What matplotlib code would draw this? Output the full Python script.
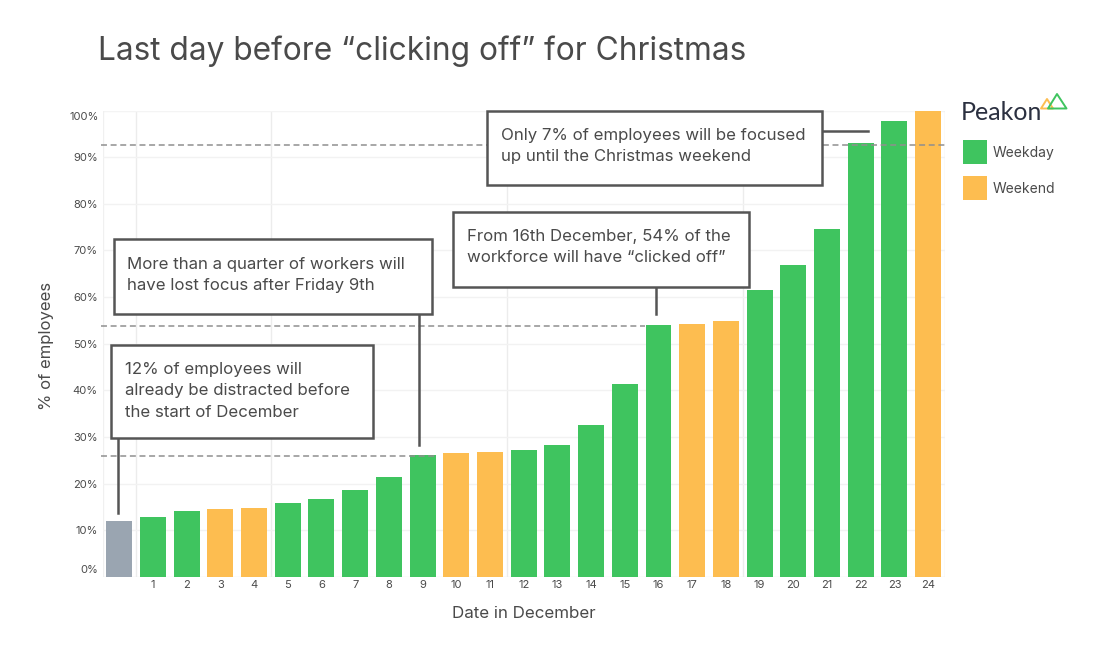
import numpy as np
import matplotlib.pyplot as plt
from matplotlib.patches import Patch, Polygon, Rectangle

plt.rcParams['font.family'] = ['Inter', 'DejaVu Sans']

# Values
labels = ['', '1', '2', '3', '4', '5', '6', '7', '8', '9', '10', '11', '12',
          '13', '14', '15', '16', '17', '18', '19', '20', '21', '22', '23', '24']
values = [12, 12.8, 14.1, 14.5, 14.8, 15.9, 16.7, 18.6, 21.4, 26.1, 26.6, 26.8, 27.2,
          28.3, 32.5, 41.3, 53.9, 54.2, 54.9, 61.5, 66.9, 74.6, 92.9, 97.7, 100]
kinds = ['before', 'day', 'day', 'end', 'end', 'day', 'day', 'day', 'day', 'day', 'end', 'end', 'day',
         'day', 'day', 'day', 'day', 'end', 'end', 'day', 'day', 'day', 'day', 'day', 'end']
colors = {'before': '#9aa5b1', 'day': '#3fc45f', 'end': '#fdbd50'}
yticks = [10, 20, 30, 40, 50, 60, 70, 80, 90]
guides = [26, 53.7, 92.6]
guide_ends = [9.4, 15.6, 24.5]
week_lines = [0.5, 4.5, 11.5, 18.5]
TEXT = '#4a4a4a'
BOX = '#555555'

W, H = 1098, 657
fig = plt.figure(figsize=(W / 100, H / 100), dpi=100)
ax = fig.add_axes([102.7 / W, 1 - 577 / H, (945 - 102.7) / W, (577 - 111) / H])

x = np.arange(len(values))
ax.bar(x, values, width=0.77, color=[colors[k] for k in kinds], zorder=3)
ax.set_xlim(-0.49, 24.5)
ax.set_ylim(0, 99.85)

ax.set_xticks(x[1:])
ax.set_xticklabels(labels[1:])
ax.set_yticks(yticks)
ax.set_yticklabels([f'{v}%' for v in yticks])
ax.tick_params(length=0, labelsize=8, labelcolor=TEXT)
ax.tick_params(axis='x', pad=2.5)
ax.tick_params(axis='y', pad=3.5)
ax.grid(axis='y', color='#f2f2f2', lw=1, zorder=0)
for v in week_lines:
    ax.axvline(v, color='#ececec', lw=1, zorder=0)
for s in ax.spines.values():
    s.set_visible(False)
ax.axhline(99.85, color='#f4f4f4', lw=1, zorder=0)
ax.axvline(-0.49, color='#f0f0f0', lw=1, zorder=0)
ax.axvline(24.5, color='#e8e8e8', lw=1, zorder=0)
ax.axhline(0, color='#eeeeee', lw=1, zorder=1)
# the end labels sit inside the plot range
fig.text(99 / W, 1 - 117 / H, '100%', fontsize=8, color=TEXT, ha='right', va='center')
fig.text(98 / W, 1 - 570 / H, '0%', fontsize=8, color=TEXT, ha='right', va='center')

for g, end in zip(guides, guide_ends):
    ax.plot([-0.53, end], [g, g], color='#8f8f8f', lw=1.1, dashes=(3.9, 2.4), zorder=4, clip_on=False)

fig.text(524 / W, 1 - 613 / H, 'Date in December', fontsize=12.2, color=TEXT, ha='center', va='center')
fig.text(46 / W, 1 - 346 / H, '% of employees', fontsize=12, color=TEXT, rotation=90,
         ha='center', va='center')
fig.text(98 / W, 1 - 51 / H, 'Last day before “clicking off” for Christmas', fontsize=22.8,
         color=TEXT, ha='left', va='center')


def px(xp, yp):
    return xp / W, 1 - yp / H


# Annotation boxes: x0, y0, x1, y1 in pixels
def callout(x0, y0, x1, y1, text, tx, ty):
    fig.add_artist(Rectangle(px(x0, y1), (x1 - x0) / W, (y1 - y0) / H, transform=fig.transFigure,
                             fc='white', ec=BOX, lw=1.8, zorder=5))
    fig.text(tx / W, 1 - ty / H, text, fontsize=12.1, color=TEXT, ha='left', va='center',
             linespacing=1.58, zorder=6)


def stem(x0, y0, x1, y1):
    fig.add_artist(plt.Line2D([x0 / W, x1 / W], [1 - y0 / H, 1 - y1 / H], color=BOX, lw=1.8, zorder=4))


stem(117.5, 438, 117.5, 513)
stem(419, 314, 419, 445)
stem(656, 287, 656, 314)
stem(822, 131, 868, 131)
callout(487, 111, 822, 185, 'Only 7% of employees will be focused\nup until the Christmas weekend', 501, 146)
callout(453, 212, 749, 287, 'From 16th December, 54% of the\nworkforce will have “clicked off”', 467, 247)
callout(114, 239, 432, 314, 'More than a quarter of workers will\nhave lost focus after Friday 9th', 127, 275)
callout(111, 345, 373, 438, '12% of employees will\nalready be distracted before\nthe start of December', 125, 391)

# Logo and legend
fig.text(961 / W, 1 - 113 / H, 'Peakon', fontsize=18, color='#2b3040', ha='left', va='center',
         family=['Lato', 'DejaVu Sans'])
fig.add_artist(Polygon([px(1041, 108.5), px(1047, 99), px(1053, 108.5)], closed=True, transform=fig.transFigure,
                       fc='none', ec='#fdbd50', lw=1.4, joinstyle='round'))
fig.add_artist(Polygon([px(1048, 108.5), px(1057, 94), px(1066.5, 108.5)], closed=True, transform=fig.transFigure,
                       fc='none', ec='#3fc45f', lw=1.4, joinstyle='round'))
handles = [Patch(color=colors['day'], label='Weekday'), Patch(color=colors['end'], label='Weekend')]
for yp, h in zip([152, 188], handles):
    fig.add_artist(Rectangle(px(963, yp + 12), 24 / W, 24 / H, transform=fig.transFigure,
                             fc=h.get_facecolor(), ec='none'))
    fig.text(993 / W, 1 - (yp + 1) / H, h.get_label(), fontsize=10, color=TEXT, ha='left', va='center')

fig.savefig('out.png', dpi=100)
